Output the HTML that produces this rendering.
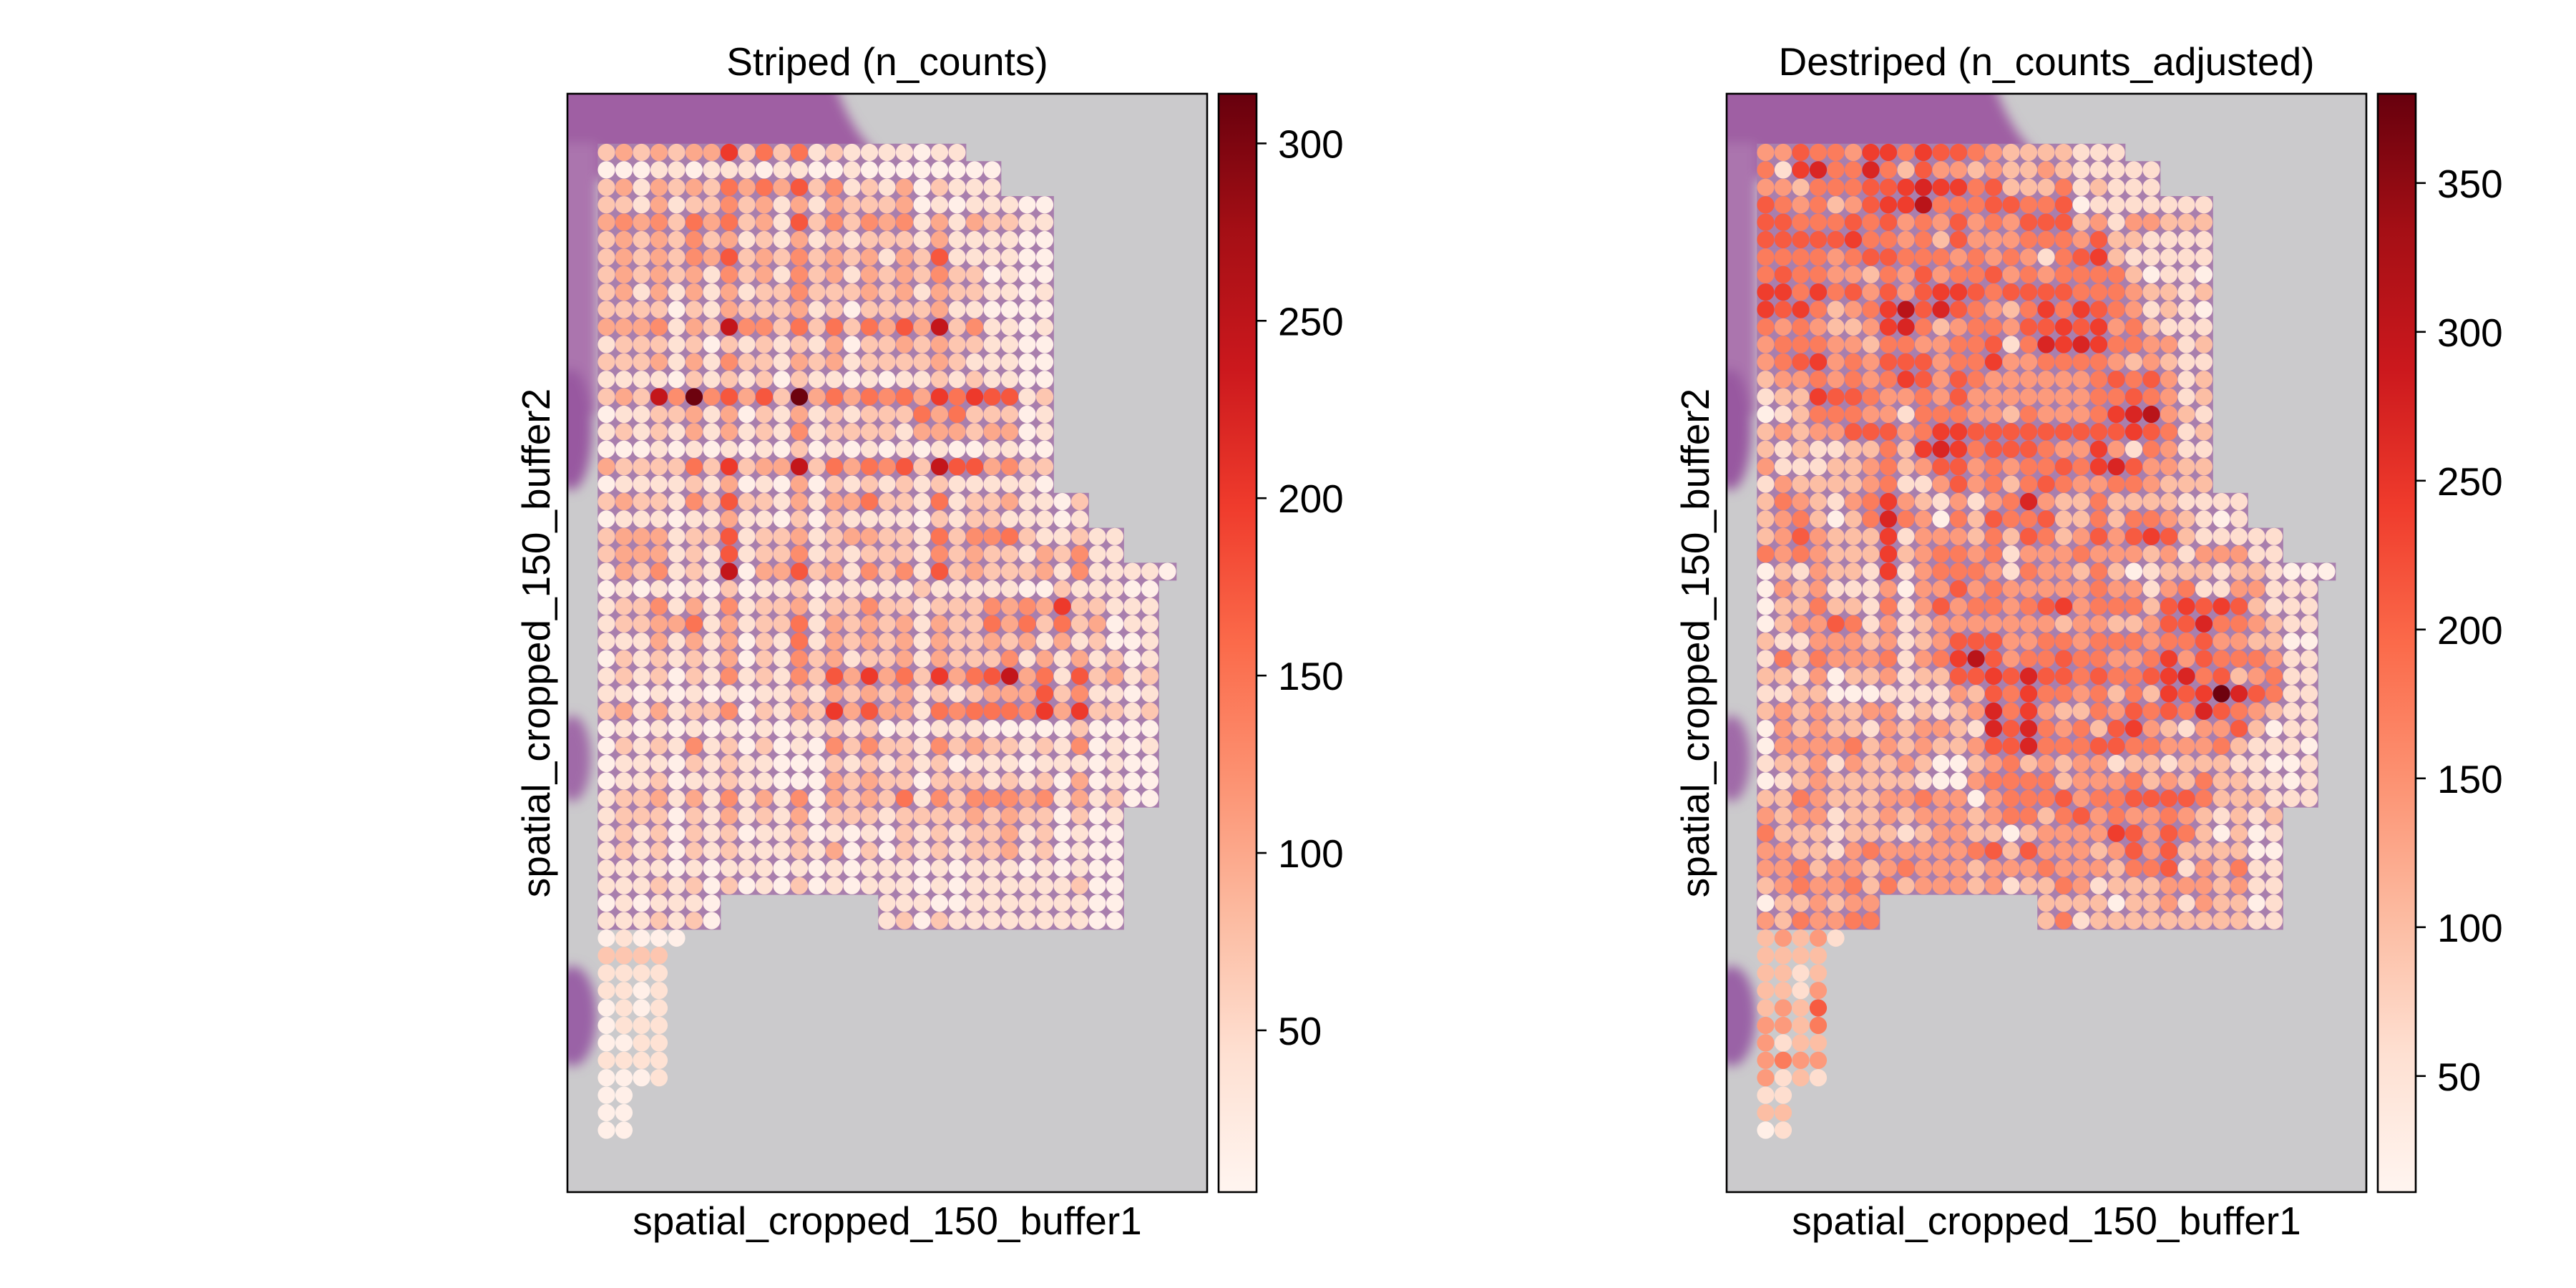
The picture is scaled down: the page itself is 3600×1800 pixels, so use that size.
<!DOCTYPE html>
<html><head><meta charset="utf-8"><style>
html,body{margin:0;padding:0;background:#fff;}
svg{display:block;}
text{font-family:"Liberation Sans",Arial,sans-serif;fill:#000;}
</style></head><body>
<svg id="fig" width="3600" height="1800" viewBox="0 0 3600 1800" xmlns="http://www.w3.org/2000/svg">
<defs>
<linearGradient id="reds" x1="0" y1="1" x2="0" y2="0">
<stop offset="0" stop-color="#fff5f0"/><stop offset="0.125" stop-color="#fee0d2"/><stop offset="0.25" stop-color="#fcbba1"/><stop offset="0.375" stop-color="#fc9272"/><stop offset="0.5" stop-color="#fb6a4a"/><stop offset="0.625" stop-color="#ef3b2c"/><stop offset="0.75" stop-color="#cb181d"/><stop offset="0.875" stop-color="#a50f15"/><stop offset="1" stop-color="#67000d"/>
</linearGradient>
<filter id="blur" x="-20%" y="-20%" width="140%" height="140%"><feGaussianBlur stdDeviation="8"/></filter>
<clipPath id="clipL"><rect x="793" y="131" width="894" height="1535"/></clipPath>
<clipPath id="clipR"><rect x="2413" y="131" width="894" height="1535"/></clipPath>
</defs>
<g id="panelL"></g>
<g id="panelR"></g>
</svg>
<script>
// ---- data (binned spot values, '.' = no spot) ----
const leftBins = [
"232323372525121111011",
"00011011101100100000000",
"23132325353624121302111",
"22131224231313222301011100",
"34342535231624243413132211",
"23232423121312122213111100",
"23232436232423231326111100",
"23232314231423132324220100",
"23131313122422232313221101",
"22220213222312022223110000",
"33341328442525253638241101",
"12221202121213022323221100",
"22231314221323122223211100",
"11110212120211010112121100",
"23284946362935354537576612",
"01122313021312122253522201",
"12121313121412222133323301",
"00010101010201010101001100",
"32222527233825354628663422",
"01111213010302121212111110",
"2322142622131335221512231102",
"0111011311020211110212211101",
"233312261223123322152445211211",
"233312161224121222142322132411",
"132412180336231424162322231411110",
"01010102011201111121111100211100",
"12241314122312242212224343722111",
"12233513122513232313225352523011",
"11131313021513232313223231312001",
"02121213021423122313222413131201",
"12120214121426373527356835162312",
"11010101011213232312123336241101",
"23131224021327363315455547372212",
"01010101010112120101110000020000",
"02121412020104242214232212140101",
"01110212110002121212011101110100",
"01120112110003232202221212030100",
"12231314131403232514244434131200",
"122202131213022212222323220201",
"121202120112010102121223120100",
"121202121112130202121223120100",
"111101011101010111010111010100",
"111212020102010111010111111200",
"0101110.........11100111111100",
"1112120.........12021111111100",
"01000",
"2222","1111","1101","0101","0111","0011","1111","0001",
"00","00","00"
];
const rightBins = [
"335443664655432222111",
"41674474253323223211111",
"33244455676645222412111",
"54342356684445544501111111",
"55444545343534355523133222",
"55555644342533344435221111",
"44443455444343431456211111",
"45443324353445343444420110",
"66464535356654555544432212",
"65642346857543246465431210",
"43432236742344355656342111",
"34443324433445147676443312",
"34563435553446334444323211",
"23343434653543333334545312",
"12265543343533333334454312",
"01244433144433243334678321",
"23233555346655555555565412",
"21211224267645554336314311",
"31112234235534344546753322",
"13222234113534245433443222",
"2432134632131347322422221111",
"2342024743042544522424432101",
"235322261333242542353565211111",
"434322262344341333433323133311",
"021322161344431433242012221221000",
"03231113033534333334331341133111",
"02242214135344345634442565652111",
"02335413123333333233223557443211",
"21133323123555334434443445332200",
"14243334134685344544334635444311",
"22130223122556575545445674523411",
"11220001111325464434242656975411",
"23232233121237463224354547543211",
"03232213233217574342563213352011",
"03333423232235574445544333421110",
"12231322320023423233122122211001",
"01232222210034444233342324221101",
"22432223343303444534455554222111",
"323312232333234424534334321212",
"422212221233220233336535420201",
"332213433333452533323535222200",
"334233234333233343332445132411",
"234334242333231224312223332311",
"0223233.........22220223132201",
"3243344.........24122222222211",
"23231",
"2222","2212","2213","2325","3324","3122","3433","3121",
"11","22","01"
];
// representative value of each bin (counts)
const leftBinValues  = [15, 40, 70, 100, 125, 150, 175, 200, 245, 310];
const rightBinValues = [25, 60, 100, 140, 175, 210, 240, 270, 310, 375];
const leftTicks  = [50, 100, 150, 200, 250, 300];
const rightTicks = [50, 100, 150, 200, 250, 300, 350];
const leftRange  = [4.4, 314];
const rightRange = [11, 380];

// ---- rendering ----
const NS = "http://www.w3.org/2000/svg";
const STOPS = ["#fff5f0","#fee0d2","#fcbba1","#fc9272","#fb6a4a","#ef3b2c","#cb181d","#a50f15","#67000d"];
function hex(c){return [parseInt(c.slice(1,3),16),parseInt(c.slice(3,5),16),parseInt(c.slice(5,7),16)];}
function reds(t){
  t=Math.max(0,Math.min(1,t)); const p=t*8; const i=Math.min(7,Math.floor(p)); const f=p-i;
  const a=hex(STOPS[i]), b=hex(STOPS[i+1]);
  return "rgb("+a.map((v,k)=>Math.round(v+(b[k]-v)*f)).join(",")+")";
}
function mk(tag, attrs, parent){
  const e=document.createElementNS(NS,tag);
  for(const k in attrs) e.setAttribute(k,attrs[k]);
  parent.appendChild(e); return e;
}
const AX = {x:793, y:131, w:894, h:1535};
const GRID = {x0:847.5, dx:24.5, y0:213, dy:24.4, r:12.1};

function drawPanel(gid, ox, bins, binVals, range, ticks, title){
  const g=document.getElementById(gid);
  const clip = ox===0 ? "url(#clipL)" : "url(#clipR)";
  const bg=mk("g",{"clip-path":clip},g);
  const bgRect=mk("rect",{x:AX.x+ox,y:AX.y,width:AX.w,height:AX.h,fill:"#cbcacc"},bg);
  
  
  const tissue=mk("g",{filter:"url(#blur)"},bg);
  
  
  mk("path",{d:`M${760+ox},110 H${1165+ox} C${1180+ox},160 ${1200+ox},190 ${1225+ox},215 L${1225+ox},250 H${760+ox} Z`,fill:"#9f5ea3"},tissue);
  mk("rect",{x:760+ox,y:200,width:75,height:380,fill:"#ab74ae"},tissue);
  mk("ellipse",{cx:798+ox,cy:600,rx:30,ry:85,fill:"#9858a0"},tissue);
  mk("ellipse",{cx:800+ox,cy:1060,rx:26,ry:60,fill:"#a06aa8"},tissue);
  mk("ellipse",{cx:800+ox,cy:1420,rx:34,ry:70,fill:"#9a62a6"},tissue);
  // tissue between spots
  const under=mk("g",{},bg);
  bins.forEach((row,r)=>{
    if(r>44) return;
    const cy=GRID.y0+r*GRID.dy;
    for(let c=0;c<row.length;c++){
      if(row[c]==='.') continue;
      const cx=GRID.x0+ox+c*GRID.dx;
      mk("rect",{x:cx-GRID.dx/2,y:cy-GRID.dy/2,width:GRID.dx+0.6,height:GRID.dy+0.6,fill:"#a97fad"},under);
    }
  });
  const spots=mk("g",{},g);
  
  
  bins.forEach((row,r)=>{
    const cy=GRID.y0+r*GRID.dy;
    for(let c=0;c<row.length;c++){
      if(row[c]==='.') continue;
      const v=binVals[+row[c]];
      const t=(v-range[0])/(range[1]-range[0]);
      const cx=GRID.x0+ox+c*GRID.dx;
      const s=mk("circle",{cx:cx,cy:cy,r:GRID.r,fill:reds(t)},spots);
      
      
    }
  });
  const frame=mk("rect",{x:AX.x+ox,y:AX.y,width:AX.w,height:AX.h,fill:"none",stroke:"#000","stroke-width":2.6},g);
  
  
  const tt=mk("text",{x:AX.x+ox+AX.w/2,y:105,"font-size":"55","text-anchor":"middle"},g);
  tt.textContent=title;
  
  
  const xl=mk("text",{x:AX.x+ox+AX.w/2,y:1725,"font-size":"55","text-anchor":"middle"},g);
  xl.textContent="spatial_cropped_150_buffer1";
  
  
  const yl=mk("text",{x:0,y:0,"font-size":"55","text-anchor":"middle",transform:`translate(${768+ox},${AX.y+AX.h/2}) rotate(-90)`},g);
  yl.textContent="spatial_cropped_150_buffer2";
  
  
  // colorbar
  const cb={x:1703+ox,y:131,w:53,h:1535};
  const cbr=mk("rect",{x:cb.x,y:cb.y,width:cb.w,height:cb.h,fill:"url(#reds)",stroke:"#000","stroke-width":2.6},g);
  
  
  ticks.forEach(v=>{
    const y=cb.y+cb.h*(range[1]-v)/(range[1]-range[0]);
    const tk=mk("line",{x1:cb.x+cb.w,x2:cb.x+cb.w+14,y1:y,y2:y,stroke:"#000","stroke-width":2.6},g);
    
    
    const lb=mk("text",{x:cb.x+cb.w+30,y:y+20,"font-size":"55"},g);
    lb.textContent=String(v);
    
    
  });
}
drawPanel("panelL",0,leftBins,leftBinValues,leftRange,leftTicks,"Striped (n_counts)");
drawPanel("panelR",1620,rightBins,rightBinValues,rightRange,rightTicks,"Destriped (n_counts_adjusted)");
</script>
</body></html>
